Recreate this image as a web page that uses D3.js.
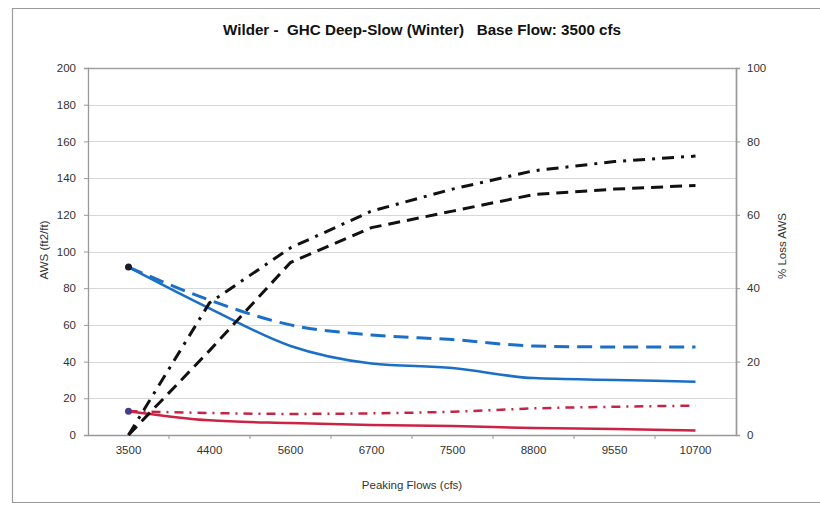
<!DOCTYPE html>
<html><head><meta charset="utf-8">
<script src="https://cdn.jsdelivr.net/npm/d3@7"></script>
<style>body{margin:0;background:#fff}svg{display:block}text{font-family:Arial,"Liberation Sans",sans-serif}</style>
</head><body>
<svg id="c" width="820" height="505"></svg>
<script>
const categories = ["3500","4400","5600","6700","7500","8800","9550","10700"];
const awsSolidBlue = [91.5,69,48.5,39,36.5,31,30,29];
const awsDashedBlue = [91.5,73.5,60,54.5,52,48.5,48,48];
const awsSolidRed = [13,8,6.5,5.4,4.9,3.8,3.3,2.4];
const awsDashDotRed = [13,12,11.5,11.8,12.7,14.5,15.4,16];
const lossDashed = [0,23,47,56.5,61,65.5,67,68];
const lossDashDot = [0,36,51,61,67,72,74.5,76];
const leftTicks = [0,20,40,60,80,100,120,140,160,180,200];
const rightTicks = [0,20,40,60,80,100];

const svg = d3.select("#c");
const L=88,R=736,T=68,B=435;
const x = d3.scaleBand().domain(categories).range([L,R]);
const yL = d3.scaleLinear().domain([0,200]).range([B,T]);
const yR = d3.scaleLinear().domain([0,100]).range([B,T]);
const cx = c => x(c)+x.bandwidth()/2;

// outer border
svg.append("path").attr("d","M830,8.5H12.5V502.5H830").attr("fill","none").attr("stroke","#9a9a9a").attr("stroke-width",1.2);

// title
svg.append("text").attr("x",422).attr("y",35).attr("text-anchor","middle")
  .attr("font-size",14.5).attr("font-weight","bold").attr("fill","#111")
  .attr("textLength",398).attr("lengthAdjust","spacingAndGlyphs")
  .attr("xml:space","preserve").text("Wilder -  GHC Deep-Slow (Winter)   Base Flow: 3500 cfs");

// gridlines
svg.append("g").selectAll("line").data(leftTicks.filter(d=>d>0&&d<200)).join("line")
  .attr("x1",L).attr("x2",R).attr("y1",d=>Math.round(yL(d))+0.5).attr("y2",d=>Math.round(yL(d))+0.5)
  .attr("stroke","#d8d8d8").attr("stroke-width",1);

// plot box top & right
svg.append("path").attr("d",`M${L},${T+0.5}H${R+0.5}V${B}`).attr("fill","none").attr("stroke","#a0a0a0").attr("stroke-width",1.5);

// axes
const gL = svg.append("g").attr("transform",`translate(${L},0)`).call(d3.axisLeft(yL).tickValues(leftTicks).tickSize(4).tickPadding(8));
const gR = svg.append("g").attr("transform",`translate(${R},0)`).call(d3.axisRight(yR).tickValues(rightTicks).tickSize(4).tickPadding(7));
const gX = svg.append("g").attr("transform",`translate(0,${B})`).call(d3.axisBottom(x).tickSize(0).tickPadding(11));
// x category boundary ticks
svg.append("g").selectAll("line").data(categories.slice(1)).join("line")
  .attr("x1",d=>x(d)).attr("x2",d=>x(d)).attr("y1",B).attr("y2",B+4).attr("stroke","#999");
[gL,gR,gX].forEach(g=>{
  g.select(".domain").attr("stroke","#999").attr("stroke-width",1.3);
  g.selectAll(".tick line").attr("stroke","#999");
  g.selectAll("text").attr("font-size",11.5).attr("fill","#333").attr("font-family","Arial, Liberation Sans, sans-serif");
});

// axis titles
svg.append("text").attr("transform","translate(48,250) rotate(-90)").attr("text-anchor","middle")
  .attr("font-size",11.5).attr("fill","#333").text("AWS (ft2/ft)");
svg.append("text").attr("transform","translate(786,246) rotate(-90)").attr("text-anchor","middle")
  .attr("font-size",11.5).attr("fill","#333").text("% Loss AWS");
svg.append("text").attr("x",412).attr("y",489).attr("text-anchor","middle")
  .attr("font-size",11.5).attr("fill","#333").text("Peaking Flows (cfs)");

// lines
const mk = (vals, ys, curve) => d3.line().x((d,i)=>cx(categories[i])).y(d=>ys(d)).curve(curve)(vals);
const series = [
  {v:awsDashedBlue, s:yL, c:"#1c6fc8", w:3, dash:"15,8", cv:d3.curveMonotoneX},
  {v:awsSolidBlue, s:yL, c:"#1c6fc8", w:2.5, dash:null, cv:d3.curveMonotoneX},
  {v:awsDashDotRed, s:yL, c:"#c42545", w:2.5, dash:"9,6,2,6", cv:d3.curveMonotoneX},
  {v:awsSolidRed, s:yL, c:"#cc2244", w:2.5, dash:null, cv:d3.curveMonotoneX},
  {v:lossDashed, s:yR, c:"#111", w:3, dash:"12,7", cv:d3.curveLinear},
  {v:lossDashDot, s:yR, c:"#111", w:3, dash:"12,7,3,7", cv:d3.curveLinear},
];
series.forEach(o=>{
  const p = svg.append("path").attr("d",mk(o.v,o.s,o.cv)).attr("fill","none").attr("stroke",o.c).attr("stroke-width",o.w);
  if(o.dash) p.attr("stroke-dasharray",o.dash);
});
// markers at first point
svg.append("circle").attr("cx",cx(categories[0])).attr("cy",yL(awsSolidBlue[0])).attr("r",3.5).attr("fill","#1a1a2a");
svg.append("circle").attr("cx",cx(categories[0])).attr("cy",yL(awsSolidRed[0])).attr("r",3.5).attr("fill","#4a3a8a");
</script>
</body></html>
